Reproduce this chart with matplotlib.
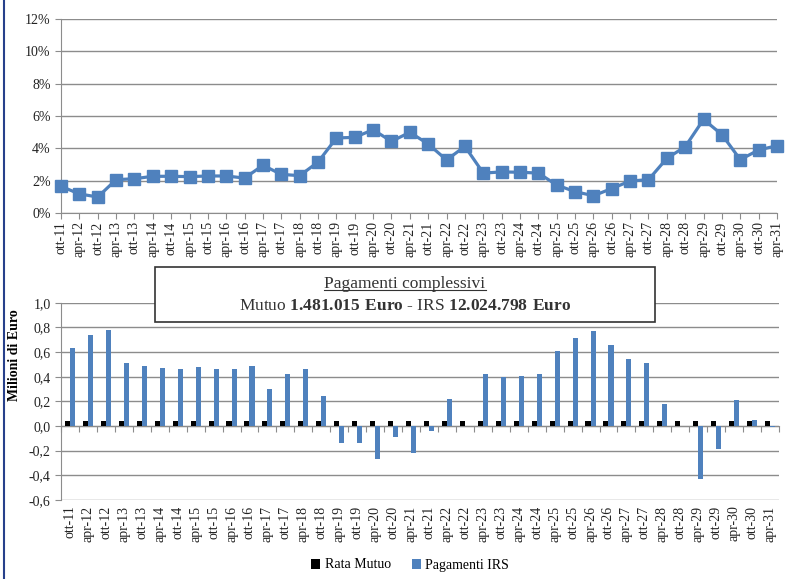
import numpy as np
import matplotlib
matplotlib.use("Agg")
import matplotlib.pyplot as plt
from matplotlib.patches import Rectangle
from matplotlib.lines import Line2D

plt.rcParams['font.family'] = ['Liberation Serif', 'DejaVu Serif']
plt.rcParams['mathtext.fontset'] = 'custom'
plt.rcParams['mathtext.rm'] = 'Liberation Serif'
plt.rcParams['mathtext.bf'] = 'Liberation Serif:bold'

# scadenze semestrali
periodi = []
for anno in range(11, 32):
    if anno > 11:
        periodi.append("apr-%d" % anno)
    if anno < 31:
        periodi.append("ott-%d" % anno)

# tasso IRS (%)
tasso = [1.65, 1.18, 0.99, 2.06, 2.12, 2.27, 2.27, 2.25, 2.29, 2.29,
         2.16, 2.95, 2.39, 2.31, 3.15, 4.64, 4.68, 5.15, 4.43, 4.99,
         4.27, 3.28, 4.12, 2.47, 2.54, 2.52, 2.47, 1.73, 1.32, 1.07,
         1.51, 1.98, 2.06, 3.38, 4.10, 5.79, 4.85, 3.30, 3.90, 4.16]

# milioni di euro
rata_mutuo = [0.037] * 40
pagamenti_irs = [0.63, 0.74, 0.78, 0.51, 0.49, 0.47, 0.46, 0.48, 0.46, 0.46,
                 0.49, 0.30, 0.42, 0.46, 0.24, -0.135, -0.14, -0.265, -0.086, -0.216,
                 -0.04, 0.22, 0.0, 0.42, 0.395, 0.405, 0.42, 0.605, 0.71, 0.77,
                 0.66, 0.54, 0.51, 0.18, 0.0, -0.43, -0.19, 0.21, 0.05, -0.005]

blu = '#4f81bd'
grigio = '#8c8c8c'
W, H = 795, 579

fig = plt.figure(figsize=(W / 100, H / 100), dpi=100)
x = np.arange(len(periodi))

# grafico del tasso
ax1 = fig.add_axes([61 / W, 1 - 213 / H, 716 / W, 194 / H])
ax1.plot(x, tasso, color=blu, lw=2.3, marker='s', ms=8, mec=blu, mfc=blu, zorder=3, clip_on=False)
ax1.set_xlim(0, 39)
ax1.set_ylim(0, 12)
ax1.set_yticks(np.arange(0, 13, 2))
ax1.set_yticklabels(["%d%%" % v for v in range(0, 13, 2)])
ax1.set_xticks(x)
ax1.set_xticklabels(periodi, rotation=90)
ax1.yaxis.grid(True, color=grigio, lw=1)
ax1.set_axisbelow(True)
for s in ['top', 'right']:
    ax1.spines[s].set_visible(False)
for s in ['left', 'bottom']:
    ax1.spines[s].set_color(grigio)
ax1.tick_params(axis='both', colors=grigio, length=4, labelsize=10, labelcolor='#222222')
ax1.tick_params(axis='x', pad=2)

# grafico dei pagamenti
ax2 = fig.add_axes([61 / W, 1 - 500 / H, 718 / W, 197.3 / H])
w = 0.28
ax2.bar(x - 0.14, rata_mutuo, width=w, color='black', label='Rata Mutuo', zorder=3)
ax2.bar(x + 0.14, pagamenti_irs, width=w, color=blu, label='Pagamenti IRS', zorder=3)
ax2.set_xlim(-0.5, 39.5)
ax2.set_ylim(-0.6, 1.0)
yt = np.round(np.arange(-0.6, 1.01, 0.2), 1)
ax2.set_yticks(yt)
ax2.set_yticklabels([("%.1f" % v).replace('.', ',').replace('-0,0', '0,0') for v in yt])
ax2.set_xticks(x)
ax2.set_xticklabels(periodi, rotation=90)
ax2.tick_params(axis='x', length=0, pad=4)
ax2.yaxis.grid(True, color=grigio, lw=1)
ax2.set_axisbelow(True)
for s in ['top', 'right', 'bottom']:
    ax2.spines[s].set_visible(False)
ax2.spines['left'].set_color(grigio)
ax2.tick_params(axis='y', colors=grigio, length=4)
ax2.tick_params(axis='both', labelsize=10, labelcolor='#222222')

# asse dello zero con tacche tra le categorie
zero = (0 - ax2.get_ylim()[0]) / (ax2.get_ylim()[1] - ax2.get_ylim()[0])
asse0 = ax2.secondary_xaxis(zero)
asse0.set_xticks(np.arange(-0.5, 40, 1))
asse0.set_xticklabels([])
asse0.tick_params(length=4, colors=grigio)
asse0.spines['bottom'].set_color(grigio)

ax2.text(15 / W, 1 - 355 / H, "Milioni di Euro", transform=fig.transFigure,
         rotation=90, ha='center', va='center', fontsize=10, fontweight='bold')

# riquadro con i totali
fig.add_artist(Rectangle((155 / W, 1 - 322 / H), 500 / W, 55 / H, transform=fig.transFigure,
                         facecolor='white', edgecolor='#333333', lw=1.2, zorder=5))
t1 = fig.text(405 / W, 1 - 284 / H, "Pagamenti complessivi", ha='center', va='center',
              fontsize=12.5, color='#333333', zorder=6)
fig.text(405 / W, 1 - 306 / H, r"Mutuo $\mathbf{1.481.015\ Euro}$ - IRS $\mathbf{12.024.798\ Euro}$",
         ha='center', va='center', fontsize=12.5, color='#333333', zorder=6)
fig.canvas.draw()
bb = t1.get_window_extent().transformed(fig.transFigure.inverted())
fig.add_artist(Line2D([bb.x0, bb.x1], [bb.y0 + 0.004, bb.y0 + 0.004], transform=fig.transFigure,
                      color='#333333', lw=0.8, zorder=6))

fig.legend(loc='center', bbox_to_anchor=(410 / W, 1 - 565 / H), ncol=2, frameon=False,
           fontsize=10, handlelength=0.7, handleheight=0.7, handletextpad=0.3, columnspacing=1.5)

# bordo sinistro
fig.add_artist(Line2D([4 / W, 4 / W], [0, 1], transform=fig.transFigure, color='#27408b', lw=1.5))

fig.savefig("out.png", dpi=100)
